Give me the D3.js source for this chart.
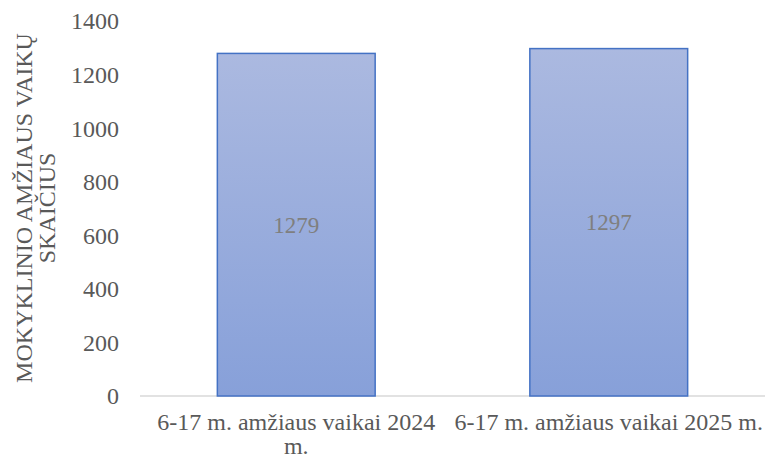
<!DOCTYPE html>
<html><head><meta charset="utf-8">
<script src="https://cdn.jsdelivr.net/npm/d3@7/dist/d3.min.js"></script>
<style>body{margin:0;background:#fff}</style>
</head><body>
<svg id="c" width="765" height="458"></svg>
<script>
const categories = [["6-17 m. amžiaus vaikai 2024", "m."], ["6-17 m. amžiaus vaikai 2025 m."]];
const values = [1279, 1297];
const yTicks = [0, 200, 400, 600, 800, 1000, 1200, 1400];
const yTitle = ["MOKYKLINIO AMŽIAUS VAIKŲ", "SKAIČIUS"];

const FONT = '"Liberation Serif"';
const svg = d3.select("#c");
const m = {l: 140, r: 0, t: 21, b: 62};
const W = 765, H = 458;
const x = d3.scaleBand().domain(d3.range(categories.length)).range([m.l, W - m.r]).paddingInner(0).paddingOuter(0);
const y = d3.scaleLinear().domain([0, 1400]).range([H - m.b, m.t]);

const defs = svg.append("defs");
const g = defs.append("linearGradient").attr("id", "gr").attr("x1", 0).attr("y1", 0).attr("x2", 0).attr("y2", 1);
g.append("stop").attr("offset", "0%").attr("stop-color", "#abb9e0");
g.append("stop").attr("offset", "100%").attr("stop-color", "#87a0d9");

svg.append("line").attr("x1", m.l).attr("x2", W).attr("y1", y(0)).attr("y2", y(0))
  .attr("stroke", "#d9d9d9").attr("stroke-width", 1.5);

svg.selectAll(".yt").data(yTicks).join("text")
  .attr("x", 119).attr("y", d => y(d)).attr("dy", "0.35em")
  .attr("text-anchor", "end").style("font-family", FONT).style("font-size", "24px").attr("fill", "#595959")
  .text(d => d);

const bw = x.bandwidth() * 0.505;
svg.selectAll(".bar").data(values).join("rect")
  .attr("x", (d, i) => x(i) + (x.bandwidth() - bw) / 2)
  .attr("y", d => y(d)).attr("width", bw).attr("height", d => y(0) - y(d))
  .attr("fill", "url(#gr)").attr("stroke", "#4472c4").attr("stroke-width", 1.5);

svg.selectAll(".lab").data(values).join("text")
  .attr("x", (d, i) => x(i) + x.bandwidth() / 2)
  .attr("y", d => (y(d) + y(0)) / 2).attr("dy", "0.35em")
  .attr("text-anchor", "middle").style("font-family", FONT).style("font-size", "23px").attr("fill", "#7f7f7f")
  .text(d => d);

categories.forEach((lines, i) => {
  const t = svg.append("text").attr("text-anchor", "middle")
    .style("font-family", FONT).style("font-size", "24px").attr("fill", "#595959");
  lines.forEach((ln, j) => {
    t.append("tspan").attr("x", x(i) + x.bandwidth() / 2).attr("y", 430 + j * 24).text(ln);
  });
});

const yt = svg.append("text").attr("transform", "translate(0,208) rotate(-90)")
  .attr("text-anchor", "middle").style("font-family", FONT).style("font-size", "24px").attr("fill", "#595959");
yTitle.forEach((ln, j) => yt.append("tspan").attr("x", 0).attr("y", 32 + j * 23).text(ln));
</script>
</body></html>
